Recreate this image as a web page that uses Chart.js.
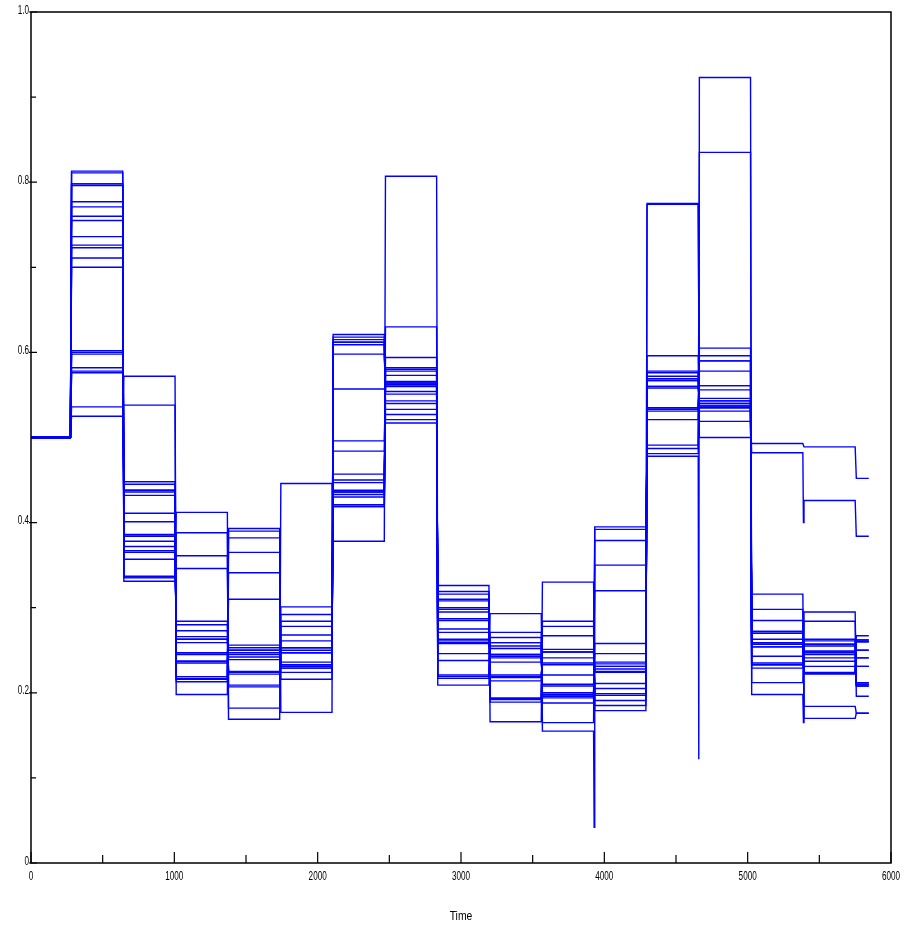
<!DOCTYPE html>
<html>
<head>
<meta charset="utf-8">
<title>Step series over time</title>
<script src="https://cdn.jsdelivr.net/npm/chart.js@4.4.1/dist/chart.umd.min.js"></script>
<style>
    html, body { margin: 0; padding: 0; background: #fff; }
    #wrap { width: 900px; height: 928px; }
</style>
</head>
<body>
<div id="wrap"><canvas id="stepChart" width="900" height="928"></canvas></div>
<script>
/* ============================================================
   DATA - one level list per time interval,
   entry i of every list is the value of series i
   ============================================================ */
const stepTimes = [0, 275, 640, 1005, 1370, 1735, 2100, 2465, 2830, 3195, 3560, 3925, 4290, 4655, 5020, 5385, 5750];
const endTime = 5845;

const level00 = [0.5, 0.5, 0.5, 0.5, 0.5, 0.5, 0.5, 0.5, 0.5, 0.5, 0.5, 0.5, 0.5, 0.5, 0.5, 0.5, 0.5, 0.5, 0.5, 0.5, 0.5, 0.5];
const level01 = [0.525, 0.536, 0.576, 0.578, 0.582, 0.598, 0.600, 0.602, 0.700, 0.711, 0.723, 0.726, 0.736, 0.755, 0.760, 0.771, 0.777, 0.796, 0.798, 0.798, 0.811, 0.813];
const level02 = [0.572, 0.538, 0.448, 0.445, 0.438, 0.438, 0.436, 0.432, 0.411, 0.401, 0.386, 0.384, 0.384, 0.378, 0.372, 0.367, 0.365, 0.357, 0.337, 0.336, 0.335, 0.331];
const level03 = [0.198, 0.213, 0.216, 0.217, 0.219, 0.235, 0.237, 0.237, 0.245, 0.247, 0.247, 0.259, 0.263, 0.263, 0.266, 0.273, 0.280, 0.284, 0.346, 0.361, 0.388, 0.412];
const level04 = [0.393, 0.390, 0.382, 0.365, 0.341, 0.310, 0.256, 0.253, 0.250, 0.250, 0.247, 0.245, 0.242, 0.239, 0.225, 0.224, 0.224, 0.222, 0.209, 0.207, 0.182, 0.169];
const level05 = [0.177, 0.216, 0.224, 0.229, 0.229, 0.231, 0.231, 0.233, 0.233, 0.236, 0.247, 0.247, 0.250, 0.253, 0.253, 0.261, 0.268, 0.278, 0.284, 0.292, 0.301, 0.446];
const level06 = [0.621, 0.618, 0.615, 0.612, 0.612, 0.609, 0.598, 0.557, 0.496, 0.484, 0.457, 0.450, 0.447, 0.438, 0.436, 0.436, 0.433, 0.430, 0.421, 0.419, 0.419, 0.378];
const level07 = [0.517, 0.521, 0.527, 0.533, 0.540, 0.543, 0.551, 0.554, 0.560, 0.562, 0.562, 0.564, 0.564, 0.566, 0.573, 0.578, 0.580, 0.580, 0.582, 0.594, 0.630, 0.807];
const level08 = [0.326, 0.319, 0.316, 0.310, 0.308, 0.300, 0.298, 0.295, 0.287, 0.285, 0.275, 0.271, 0.263, 0.261, 0.259, 0.258, 0.246, 0.238, 0.221, 0.219, 0.217, 0.209];
const level09 = [0.166, 0.189, 0.192, 0.193, 0.194, 0.214, 0.218, 0.219, 0.219, 0.221, 0.236, 0.241, 0.243, 0.245, 0.245, 0.252, 0.255, 0.259, 0.259, 0.265, 0.271, 0.293];
const level10 = [0.330, 0.284, 0.278, 0.267, 0.251, 0.248, 0.248, 0.241, 0.235, 0.233, 0.221, 0.210, 0.208, 0.200, 0.198, 0.198, 0.196, 0.196, 0.194, 0.188, 0.165, 0.155];
const level11 = [0.179, 0.185, 0.191, 0.197, 0.199, 0.199, 0.205, 0.211, 0.224, 0.225, 0.228, 0.231, 0.231, 0.234, 0.236, 0.246, 0.258, 0.320, 0.350, 0.379, 0.392, 0.395];
const level12 = [0.775, 0.774, 0.596, 0.578, 0.576, 0.572, 0.569, 0.567, 0.567, 0.560, 0.560, 0.558, 0.535, 0.535, 0.533, 0.533, 0.531, 0.521, 0.491, 0.487, 0.481, 0.478];
const level13 = [0.500, 0.519, 0.531, 0.535, 0.535, 0.537, 0.537, 0.540, 0.540, 0.543, 0.543, 0.546, 0.556, 0.561, 0.561, 0.578, 0.590, 0.590, 0.596, 0.605, 0.835, 0.923];
const level14 = [0.493, 0.482, 0.316, 0.298, 0.285, 0.272, 0.272, 0.270, 0.263, 0.259, 0.259, 0.257, 0.257, 0.254, 0.254, 0.243, 0.235, 0.233, 0.233, 0.229, 0.212, 0.198];
const level15 = [0.489, 0.426, 0.170, 0.184, 0.222, 0.223, 0.223, 0.224, 0.231, 0.237, 0.241, 0.245, 0.247, 0.249, 0.249, 0.255, 0.257, 0.257, 0.261, 0.263, 0.284, 0.295];
const level16 = [0.452, 0.384, 0.176, 0.176, 0.267, 0.262, 0.262, 0.260, 0.260, 0.250, 0.250, 0.241, 0.241, 0.231, 0.231, 0.212, 0.212, 0.210, 0.210, 0.208, 0.208, 0.196];

const levels = [level00, level01, level02, level03, level04, level05, level06, level07, level08,
                level09, level10, level11, level12, level13, level14, level15, level16];

// short dips right at the start of an interval
const dipInterval = [11, 13, 15, 15];
const dipSeries = [21, 21, 1, 21];
const dipValue = [0.042, 0.122, 0.400, 0.165];

const xLabelStep = 1000;
const yLabels = ["0", "0.2", "0.4", "0.6", "0.8", "1.0"];

/* ============================================================
   BUILD SERIES
   ============================================================ */
const RAMP = 8;   // time units a level change takes
const seriesCount = level00.length;
const datasets = [];

for (let s = 0; s < seriesCount; s++) {
    const pts = [];
    levels.forEach((lv, k) => {
        const start = stepTimes[k];
        const end = k + 1 < stepTimes.length ? stepTimes[k + 1] : endTime;
        dipInterval.forEach((d, j) => {
            if (d === k && dipSeries[j] === s) pts.push({ x: start + RAMP / 2, y: dipValue[j] });
        });
        pts.push({ x: k === 0 ? start : start + RAMP, y: lv[s] });
        pts.push({ x: end, y: lv[s] });
    });
    datasets.push({
        data: pts,
        borderColor: "#0000ff",
        borderWidth: 1.4,
        pointRadius: 0,
        tension: 0,
        fill: false
    });
}

/* ============================================================
   FRAME, INWARD TICKS, NARROW LABELS
   ============================================================ */
const SQUEEZE = 0.68;
const LABEL_FONT = "12px 'Liberation Sans', Arial, sans-serif";

function narrowText(ctx, text, x, y, align, squeeze) {
    ctx.save();
    ctx.translate(x, y);
    ctx.scale(squeeze, 1);
    ctx.textAlign = align;
    ctx.textBaseline = "alphabetic";
    ctx.fillText(text, 0, 0);
    ctx.restore();
}

const framePlugin = {
    id: "frame",
    afterDraw(chart) {
        const { ctx, chartArea: a, scales } = chart;
        ctx.save();
        ctx.strokeStyle = "#000";
        ctx.lineWidth = 1.5;
        ctx.strokeRect(a.left, a.top, a.right - a.left, a.bottom - a.top);

        ctx.lineWidth = 1.2;
        ctx.beginPath();
        scales.x.ticks.forEach(t => {
            const px = scales.x.getPixelForValue(t.value);
            const len = Math.round(t.value) % xLabelStep === 0 ? 11 : 8;
            ctx.moveTo(px, a.bottom);
            ctx.lineTo(px, a.bottom - len);
        });
        scales.y.ticks.forEach(t => {
            const py = scales.y.getPixelForValue(t.value);
            const major = Math.round(t.value * 10) % 2 === 0;
            ctx.moveTo(a.left - (major ? 2 : 0), py);
            ctx.lineTo(a.left + (major ? 6 : 5), py);
        });
        ctx.stroke();

        // tick labels
        ctx.fillStyle = "#000";
        ctx.font = LABEL_FONT;
        scales.x.ticks.forEach(t => {
            const v = Math.round(t.value);
            if (v % xLabelStep !== 0) return;
            narrowText(ctx, String(v), scales.x.getPixelForValue(v), a.bottom + 17, "center", SQUEEZE);
        });
        yLabels.forEach(lbl => {
            const py = scales.y.getPixelForValue(Number(lbl));
            narrowText(ctx, lbl, a.left - 2, py + 1.6, "right", SQUEEZE);
        });

        // axis title
        ctx.font = "13px 'Liberation Sans', Arial, sans-serif";
        narrowText(ctx, "Time", (a.left + a.right) / 2, 920, "center", 0.8);
        ctx.restore();
    }
};

new Chart(document.getElementById("stepChart"), {
    type: "line",
    data: { datasets: datasets },
    plugins: [framePlugin],
    options: {
        responsive: false,
        animation: false,
        events: [],
        layout: { padding: { top: 12, right: 9, left: 0, bottom: 0 } },
        plugins: { legend: { display: false }, tooltip: { enabled: false } },
        scales: {
            x: {
                type: "linear",
                min: 0,
                max: 6000,
                grid: { display: false, drawTicks: false },
                border: { display: false },
                ticks: { stepSize: 500, autoSkip: false, display: false },
                afterFit: scale => {
                    scale.height = 65;
                    scale.paddingLeft = 0;
                    scale.paddingRight = 0;
                }
            },
            y: {
                min: 0,
                max: 1,
                grid: { display: false, drawTicks: false },
                border: { display: false },
                ticks: { stepSize: 0.1, autoSkip: false, display: false },
                afterFit: scale => {
                    scale.width = 31;
                    scale.paddingTop = 0;
                    scale.paddingBottom = 0;
                }
            }
        }
    }
});
</script>
</body>
</html>
